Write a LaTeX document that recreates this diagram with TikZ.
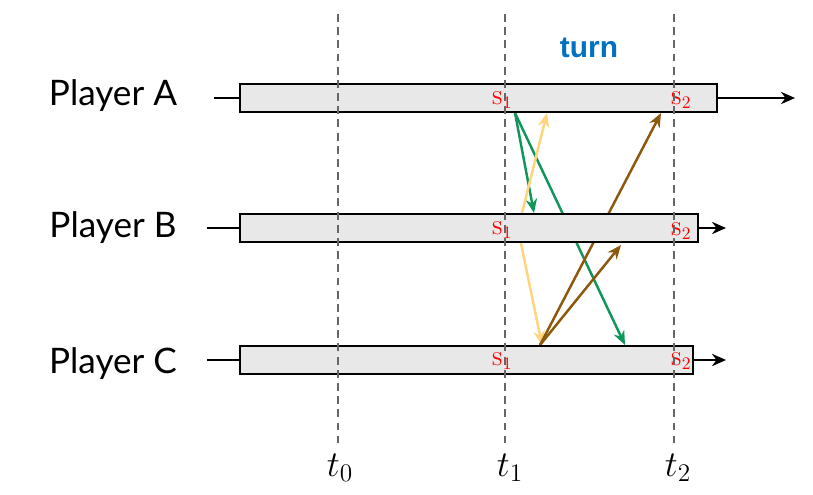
\documentclass[tikz,border=0pt]{standalone}
\usepackage{fontspec}
\setsansfont{Lato}
\newfontfamily\turnfont{Liberation Sans}
\usetikzlibrary{arrows.meta}
\definecolor{msgA}{RGB}{16,150,90}
\definecolor{msgB}{RGB}{255,212,125}
\definecolor{msgC}{RGB}{140,88,12}
\definecolor{turnblue}{RGB}{0,112,192}
\newcommand{\stmp}[1]{\textsc{s}$_{#1}$}

\begin{document}
\begin{tikzpicture}[x=0.02cm, y=-0.02cm,
  player/.style={font=\sffamily\fontsize{20}{24}\selectfont, anchor=base, inner sep=0pt},
  bar/.style={draw, line width=1pt, fill=black!9, minimum height=0.56cm, inner sep=0pt, outer sep=0pt, anchor=north west},
  tline/.style={draw=black!60, line width=0.6pt, dash pattern=on 4.5pt off 3pt},
  tlab/.style={font=\fontsize{20}{24}\selectfont, anchor=base, inner sep=0pt},
  stamp/.style={text=red, font=\fontsize{14}{16}\selectfont, inner sep=0pt},
  msg/.style={line width=1.4pt, -{Stealth[length=8pt,width=6.5pt]}},
  axis/.style={line width=1.2pt},
]
\useasboundingbox (0,0) rectangle (813,494);

% ---------- message end points ----------
\coordinate (Asend) at (515,113);
\coordinate (Bsend) at (518,229);
\coordinate (Csend) at (540,345);
\coordinate (AtoB) at (534,213);
\coordinate (AtoC) at (625,345);
\coordinate (BtoA) at (547,113);
\coordinate (BtoC) at (542,345);
\coordinate (CtoA) at (661,113);
\coordinate (CtoB) at (621,245);

% ---------- messages (under the bars) ----------
\draw[msg, msgA] (Asend) -- (AtoB);
\draw[msg, msgA] (Asend) -- (AtoC);
\draw[msg, msgB] (Bsend) -- (BtoA);
\draw[msg, msgB] (Bsend) -- (BtoC);
\draw[msg, msgC] (Csend) -- (CtoA);
\draw[msg, msgC] (Csend) -- (CtoB);

% ---------- timelines ----------
\node[bar, minimum width=9.54cm] (barA) at (240,84) {};
\node[bar, minimum width=9.16cm] (barB) at (240,214) {};
\node[bar, minimum width=9.06cm] (barC) at (240,346) {};

\coordinate (Ain) at (barA.west -| 214,0); \coordinate (Aout) at (barA.east -| 795,0);
\coordinate (Bin) at (barB.west -| 207,0); \coordinate (Bout) at (barB.east -| 726,0);
\coordinate (Cin) at (barC.west -| 207,0); \coordinate (Cout) at (barC.east -| 726,0);
\draw[axis] (Ain) -- (barA.west);
\draw[axis] (Bin) -- (barB.west);
\draw[axis] (Cin) -- (barC.west);
\draw[axis, -{Stealth[length=8pt,width=7pt]}] (barA.east) -- (Aout);
\draw[axis, -{Stealth[length=8pt,width=7pt]}] (barB.east) -- (Bout);
\draw[axis, -{Stealth[length=8pt,width=7pt]}] (barC.east) -- (Cout);

\node[player] (pA) at (113,105) {Player A};
\node[player] (pB) at (113,237) {Player B};
\node[player] (pC) at (113,373) {Player C};

% ---------- stamps ----------
\node[stamp] (sA1) at (502,100) {\stmp{1}};
\node[stamp] (sA2) at (681,100) {\stmp{2}};
\node[stamp] (sB1) at (502,230) {\stmp{1}};
\node[stamp] (sB2) at (681,231) {\stmp{2}};
\node[stamp] (sC1) at (502,361) {\stmp{1}};
\node[stamp] (sC2) at (681,361) {\stmp{2}};

% ---------- time marks ----------
\coordinate (t0top) at (338,14); \coordinate (t0bot) at (338,443);
\coordinate (t1top) at (505,14); \coordinate (t1bot) at (505,443);
\coordinate (t2top) at (674,14); \coordinate (t2bot) at (674,443);
\draw[tline] (t0top) -- (t0bot);
\draw[tline] (t1top) -- (t1bot);
\draw[tline] (t2top) -- (t2bot);
\node[tlab] (t0) at (340,476) {$t_0$};
\node[tlab] (t1) at (510,476) {$t_1$};
\node[tlab] (t2) at (678,476) {$t_2$};

\node[font=\turnfont\bfseries\fontsize{17}{20}\selectfont, text=turnblue, anchor=base, inner sep=0pt] (turn) at (589,57) {turn};
\end{tikzpicture}
\end{document}
